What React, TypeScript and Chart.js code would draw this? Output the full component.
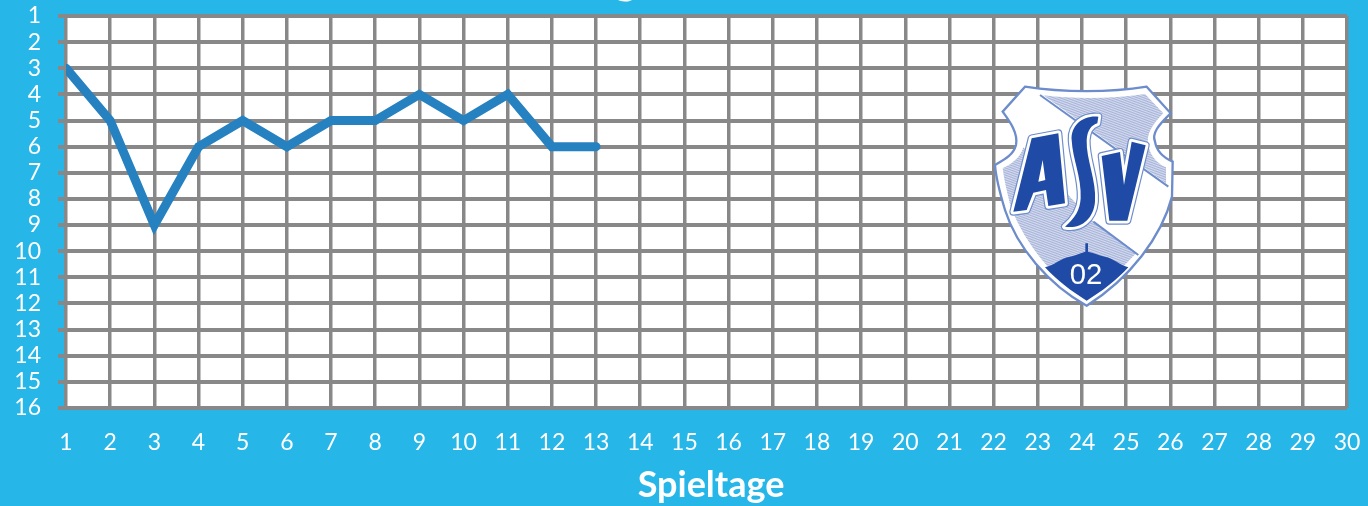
import React, { useEffect, useRef } from "react";
import { Chart, registerables } from "chart.js";

Chart.register(...registerables);

const spieltage = Array.from({ length: 30 }, (_, i) => String(i + 1));
const platzierung = [3, 5, 9, 6, 5, 6, 5, 5, 4, 5, 4, 6, 6];
const achsenTitel = "Spieltage";
const titel = "Platzierung Saison 2022/23";

const FONT = "Lato, Carlito, 'Open Sans', sans-serif";
const BG = "#27b6e8";
const GRID = "#888888";
const LINE = "#2681c1";
const BLUE = "#1f4aa6";
const EDGE = "#6d8ccb";

const paintPlugin = {
  id: "paint",
  beforeDraw(chart: any) {
    const { ctx, chartArea: a } = chart;
    ctx.save();
    ctx.fillStyle = "#ffffff";
    ctx.fillRect(a.left, a.top, a.right - a.left, a.bottom - a.top);
    ctx.restore();
  },
  afterDraw(chart: any) {
    const { ctx } = chart;
    ctx.save();
    ctx.fillStyle = "#ffffff";
    ctx.textAlign = "center";
    ctx.textBaseline = "alphabetic";
    ctx.font = `bold 42px ${FONT}`;
    ctx.fillText(titel, 685, -6);
    ctx.font = `bold 36px ${FONT}`;
    ctx.textBaseline = "middle";
    ctx.fillText(achsenTitel, 711, 485);
    ctx.restore();
  },
};

function Letter({ d }: { d: string }) {
  return (
    <g fillRule="evenodd">
      <path d={d} fill={EDGE} stroke={EDGE} strokeWidth={24} strokeLinejoin="round" />
      <path d={d} fill="#ffffff" stroke="#ffffff" strokeWidth={17} strokeLinejoin="round" />
      <path d={d} fill={BLUE} />
    </g>
  );
}

function Logo() {
  const outline =
    "M135 50 C250 68 390 68 500 50 L572 130 C535 165 515 190 525 215 C530 245 555 265 578 275 L576 380 C545 500 450 625 320 707 C205 645 110 530 75 420 C60 370 48 330 45 285 C75 268 100 255 108 225 C115 190 90 155 68 125 Z";
  return (
    <svg
      viewBox="0 0 630 750"
      width={210}
      height={250}
      style={{ position: "absolute", left: 980, top: 70, display: "block", filter: "blur(0.5px)" }}
    >
      <defs>
        <pattern id="hatch" width="5" height="5" patternUnits="userSpaceOnUse" patternTransform="rotate(-15)">
          <rect width="5" height="5" fill="#d6dcee" />
          <rect width="5" height="2.2" fill="#9fadd6" />
        </pattern>
      </defs>
      <path d={outline} fill="#ffffff" stroke={EDGE} strokeWidth={7} />
      <path
        d="M190 76 C290 88 400 86 495 72 L550 130 C515 165 498 195 505 225 C510 255 530 280 558 292 L558 340 Z"
        fill="url(#hatch)"
      />
      <path
        d="M68 295 C100 280 122 260 130 232 L340 455 L470 548 C430 590 380 640 320 688 C225 630 140 530 92 410 C82 370 72 330 68 295 Z"
        fill="url(#hatch)"
      />
      <path d="M180 75 L565 350" stroke={EDGE} strokeWidth={6} fill="none" />
      <path d="M340 455 L475 555" stroke={EDGE} strokeWidth={6} fill="none" />
      <path
        d="M195 592 C225 585 240 565 270 560 C290 555 305 548 316 545 L316 520 L324 520 L324 545 C340 548 355 555 375 560 C400 565 420 585 445 592 C410 630 365 665 320 692 C275 665 230 630 195 592 Z"
        fill={BLUE}
      />
      <text x="318" y="641" textAnchor="middle" fontFamily="Liberation Sans, Arial, sans-serif" fontSize="88" fill="#ffffff">
        02
      </text>
      <Letter d="M155 205 L235 190 L255 400 L205 408 L198 360 L160 368 L140 420 L100 425 Z M175 335 L196 330 L188 270 Z" />
      <Letter d="M365 258 L420 246 L432 345 L455 215 L497 226 L442 452 L388 452 Z" />
      <Letter d="M355 140 C310 135 272 165 275 210 C278 270 305 320 302 385 C300 420 285 445 255 470 C300 478 340 450 345 395 C350 330 318 270 320 210 C322 180 335 165 352 160 Z" />
    </svg>
  );
}

export default function App() {
  const ref = useRef<HTMLCanvasElement | null>(null);

  useEffect(() => {
    document.body.style.margin = "0";
    document.body.style.background = BG;
    const chart = new Chart(ref.current!, {
      type: "line",
      data: {
        labels: spieltage,
        datasets: [
          {
            label: "Platzierung",
            data: platzierung,
            borderColor: LINE,
            borderWidth: 9,
            pointRadius: 0,
            tension: 0,
            fill: false,
            borderJoinStyle: "miter",
            borderCapStyle: "round",
            clip: 0,
          },
        ],
      },
      options: {
        animation: false,
        responsive: false,
        layout: { padding: { top: 16, right: 21, left: 0, bottom: 0 } },
        plugins: { legend: { display: false }, tooltip: { enabled: false }, title: { display: false } },
        scales: {
          x: {
            type: "category",
            offset: false,
            afterFit(s: any) {
              s.height = 98;
              s.paddingLeft = 0;
              s.paddingRight = 0;
            },
            border: { display: false },
            grid: { color: GRID, lineWidth: 3.5, drawTicks: false },
            ticks: {
              color: "#ffffff",
              font: { family: FONT, size: 23 },
              padding: 21,
              maxRotation: 0,
              minRotation: 0,
              autoSkip: false,
            },
          },
          y: {
            type: "linear",
            reverse: true,
            min: 1,
            max: 16,
            afterFit(s: any) {
              s.width = 66;
              s.paddingTop = 0;
              s.paddingBottom = 0;
            },
            border: { display: false },
            grid: { color: GRID, lineWidth: 4, tickLength: 8, tickColor: GRID },
            ticks: {
              color: "#ffffff",
              font: { family: FONT, size: 23 },
              stepSize: 1,
              padding: 17,
              autoSkip: false,
            },
          },
        },
      },
      plugins: [paintPlugin],
    } as any);
    return () => chart.destroy();
  }, []);

  return (
    <div style={{ position: "relative", width: 1368, height: 506, background: BG, overflow: "hidden" }}>
      <canvas ref={ref} width={1368} height={506} style={{ display: "block", width: 1368, height: 506 }} />
      <Logo />
    </div>
  );
}
